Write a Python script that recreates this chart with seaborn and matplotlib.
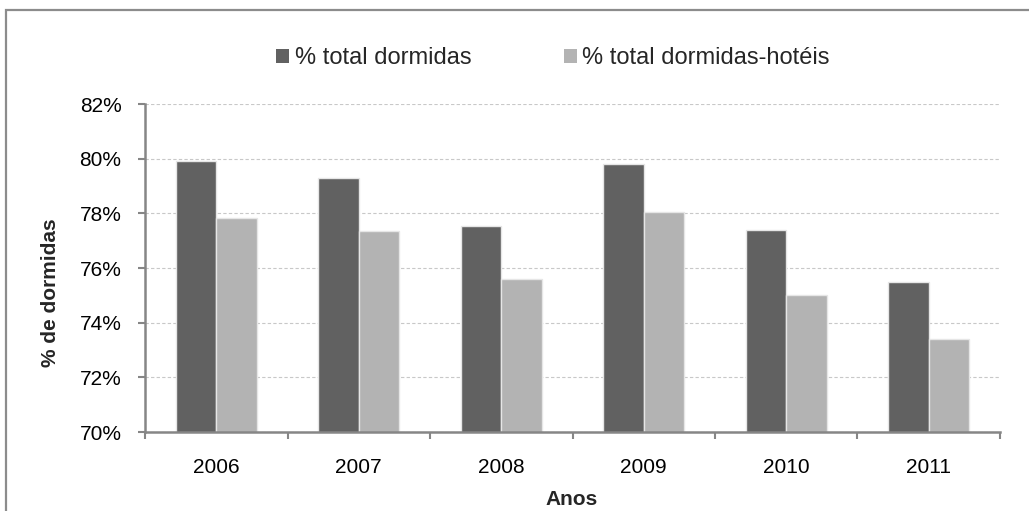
import matplotlib
matplotlib.use("Agg")
import matplotlib.pyplot as plt
import matplotlib.patches as mpatches
from matplotlib.ticker import FixedLocator, FuncFormatter
import seaborn as sns
import pandas as pd

years = ["2006", "2007", "2008", "2009", "2010", "2011"]
series_names = ["% total dormidas", "% total dormidas-hotéis"]
total_dormidas = [79.93, 79.30, 77.54, 79.81, 77.38, 75.47]
total_hoteis = [77.84, 77.35, 75.58, 78.06, 75.02, 73.39]
y_ticks = [70, 72, 74, 76, 78, 80, 82]

df = pd.DataFrame({
    "Ano": years * 2,
    "Serie": [series_names[0]] * len(years) + [series_names[1]] * len(years),
    "Valor": total_dormidas + total_hoteis,
})

sns.set_theme(style="white")
plt.rcParams["font.family"] = ["Liberation Sans", "DejaVu Sans"]

fig = plt.figure(figsize=(10.29, 5.11), dpi=100)
ax = fig.add_axes([145 / 1029, 1 - 432 / 511, 855 / 1029, 328 / 511])

palette = {series_names[0]: "#616161", series_names[1]: "#b3b3b3"}
sns.barplot(data=df, x="Ano", y="Valor", hue="Serie", palette=palette,
            width=0.57, gap=0, edgecolor="#e6e6e6", linewidth=1.0,
            saturation=1, ax=ax, legend=True)

ax.set_ylim(70, 82)
ax.set_xlim(-0.5, len(years) - 0.5)
ax.yaxis.set_major_locator(FixedLocator(y_ticks))
ax.yaxis.set_major_formatter(FuncFormatter(lambda v, p: f"{v:.0f}%"))
ax.grid(axis="y", color="#c8c8c8", linestyle=(0, (3, 2)), linewidth=0.8)
ax.set_axisbelow(True)

for s in ["top", "right"]:
    ax.spines[s].set_visible(False)
for s in ["left", "bottom"]:
    ax.spines[s].set_color("#868686")
    ax.spines[s].set_linewidth(1.8)

ax.set_xticks(range(len(years)))
ax.set_xticklabels(years)
ax.set_xticks([i - 0.5 for i in range(len(years) + 1)], minor=True)
ax.tick_params(axis="x", which="major", length=0, pad=19, labelsize=15, labelcolor="black")
ax.tick_params(axis="x", which="minor", length=5, width=1.5, color="#868686", direction="out", bottom=True)
ax.tick_params(axis="y", which="major", length=5, width=1.5, color="#868686", direction="out",
               left=True, pad=12, labelsize=15, labelcolor="black")

ax.set_xlabel("")
ax.set_ylabel("")
fig.text(572 / 1029, 1 - 499 / 511, "Anos", ha="center", va="center",
         fontsize=15, fontweight="bold")
fig.text(51 / 1029, 1 - 293 / 511, "% de dormidas", ha="center", va="center",
         rotation=90, fontsize=15, fontweight="bold")

leg = ax.legend(loc="center", bbox_to_anchor=(553 / 1029, 1 - 58 / 511),
                bbox_transform=fig.transFigure, ncol=2, frameon=False,
                fontsize=17, handlelength=0.55, handleheight=0.55,
                handletextpad=0.25, columnspacing=3.9)
for h in leg.legend_handles:
    h.set_edgecolor("none")

border = mpatches.Rectangle((6 / 1029, -0.05), 1.1, 1 - 10.5 / 511 + 0.05,
                            transform=fig.transFigure, fill=False,
                            edgecolor="#8c8c8c", linewidth=1.6)
fig.add_artist(border)

fig.savefig("out.png", dpi=100)
